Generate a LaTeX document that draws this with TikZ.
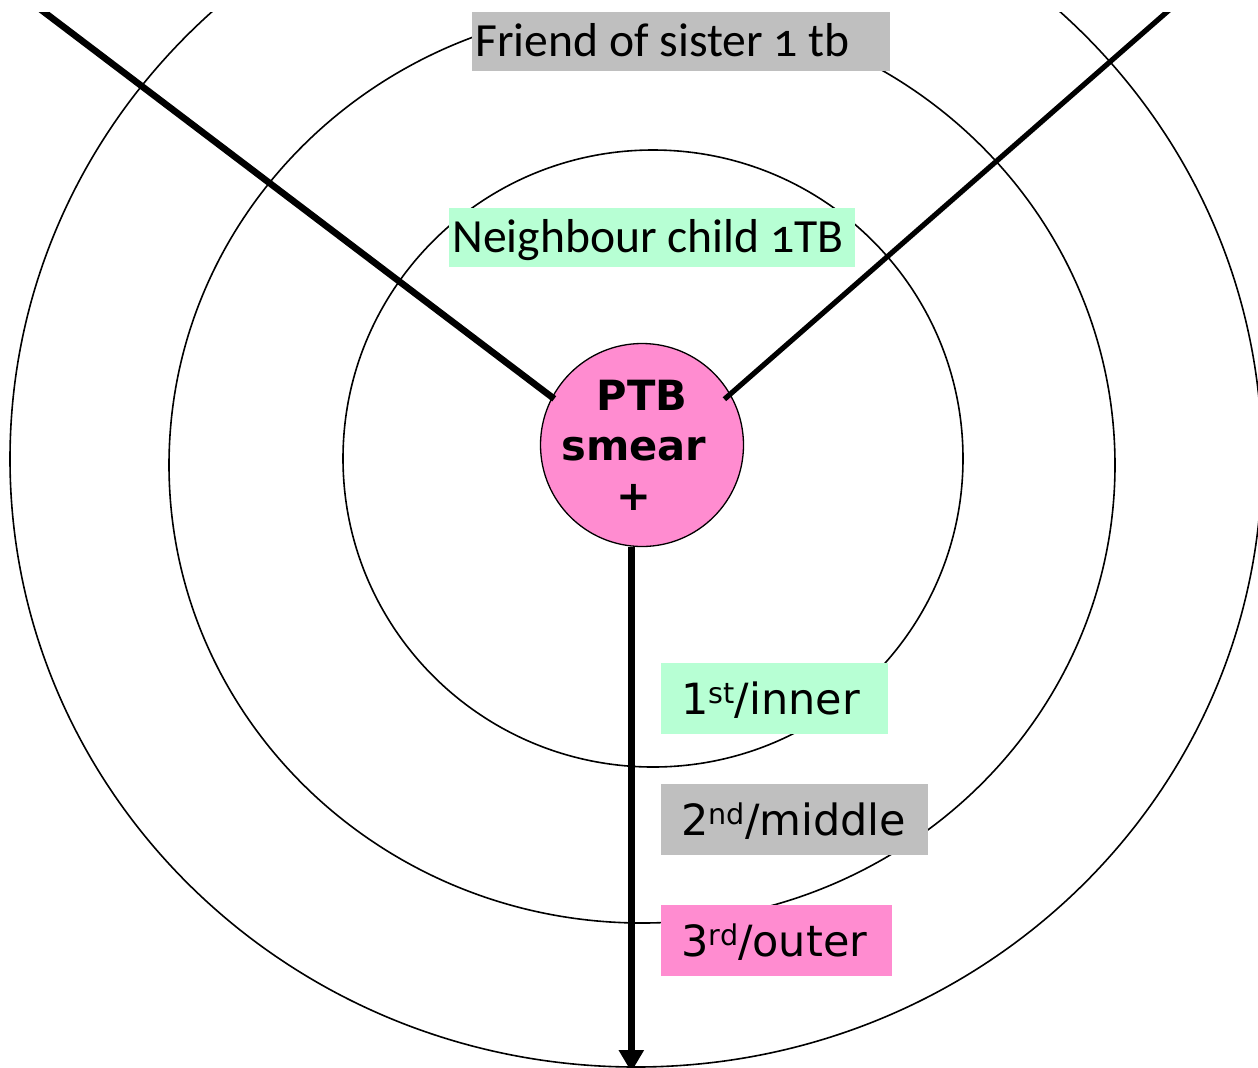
\documentclass[tikz,border=0pt]{standalone}
\usepackage{fontspec}
\usetikzlibrary{arrows.meta}
\newfontfamily\candfont[Numbers=OldStyle]{Carlito}
\newfontfamily\verdfont{DejaVu Sans}
\definecolor{boxgray}{RGB}{191,191,191}
\definecolor{mint}{RGB}{183,255,212}
\definecolor{smearpink}{RGB}{255,140,208}
% raised ordinal suffix
\newcommand\ordsuf[1]{\raisebox{5.5pt}{\fontsize{14.3pt}{14pt}\selectfont #1}}

\begin{document}
\begin{tikzpicture}[x=0.5pt,y=-0.5pt,
  ring/.style={line width=0.8pt},
  ringlabel/.style={anchor=west, inner xsep=1.5pt, inner ysep=0pt,
    minimum height=29.5pt, text height=15.3pt, text depth=0pt,
    font=\candfont\fontsize{23.8pt}{28pt}\selectfont},
  levellabel/.style={anchor=west, inner xsep=10pt, inner ysep=0pt,
    minimum height=35.5pt, text height=15.5pt, text depth=0pt,
    font=\verdfont\fontsize{21.5pt}{25pt}\selectfont},
  spoke/.style={line width=#1},
]
\useasboundingbox (0,0) rectangle (1258,1067);
\begin{scope}
\clip (0,12) rectangle (1258,1067);

% contact rings
\draw[ring] (653,458.5) ellipse [x radius=310, y radius=308.5];
\draw[ring] (642,465) ellipse [x radius=473, y radius=458];
\draw[ring] (636,459) ellipse [x radius=626, y radius=608];

% ring labels
\node[ringlabel, fill=boxgray] (friend) at (472,41.5)
  {\makebox[206pt][l]{Friend of sister 1 tb}};
\node[ringlabel, fill=mint] (neigh) at (449,237.5)
  {\makebox[200pt][l]{Neighbour child 1TB}};

% level legend
\node[levellabel, fill=mint] (lvlone) at (661,698.5)
  {\makebox[93.5pt][l]{1\ordsuf{st}/inner}};
\node[levellabel, fill=boxgray] (lvltwo) at (661,819.5)
  {\makebox[113.5pt][l]{2\ordsuf{nd}/middle}};
\node[levellabel, fill=smearpink] (lvlthree) at (661,940.5)
  {\makebox[95.25pt][l]{3\ordsuf{rd}/outer}};

% index case (negative inner sep keeps the circle at its minimum size)
\node[circle, fill=smearpink, draw, line width=0.65pt, minimum size=101.5pt,
  inner sep=-12pt, align=center,
  font=\verdfont\bfseries\fontsize{20.8pt}{25pt}\selectfont] (ptb) at (642,445)
  {PTB\\smear\rule{8pt}{0pt}\\+\rule{8pt}{0pt}};

% spokes
\coordinate (tl) at (15,-10);
\coordinate (tr) at (1192,-10);
\coordinate (tip) at (631,1072);
\draw[spoke=3.3pt, shorten >=-1.5pt] (tl) -- (ptb.152.6);
\draw[spoke=2.6pt, shorten >=-4pt] (tr) -- (ptb.30);
\draw[spoke=3.5pt, -{Triangle[length=11pt,width=12pt]}] (ptb.264) -- (ptb.264 |- tip);
\end{scope}
\end{tikzpicture}
\end{document}
